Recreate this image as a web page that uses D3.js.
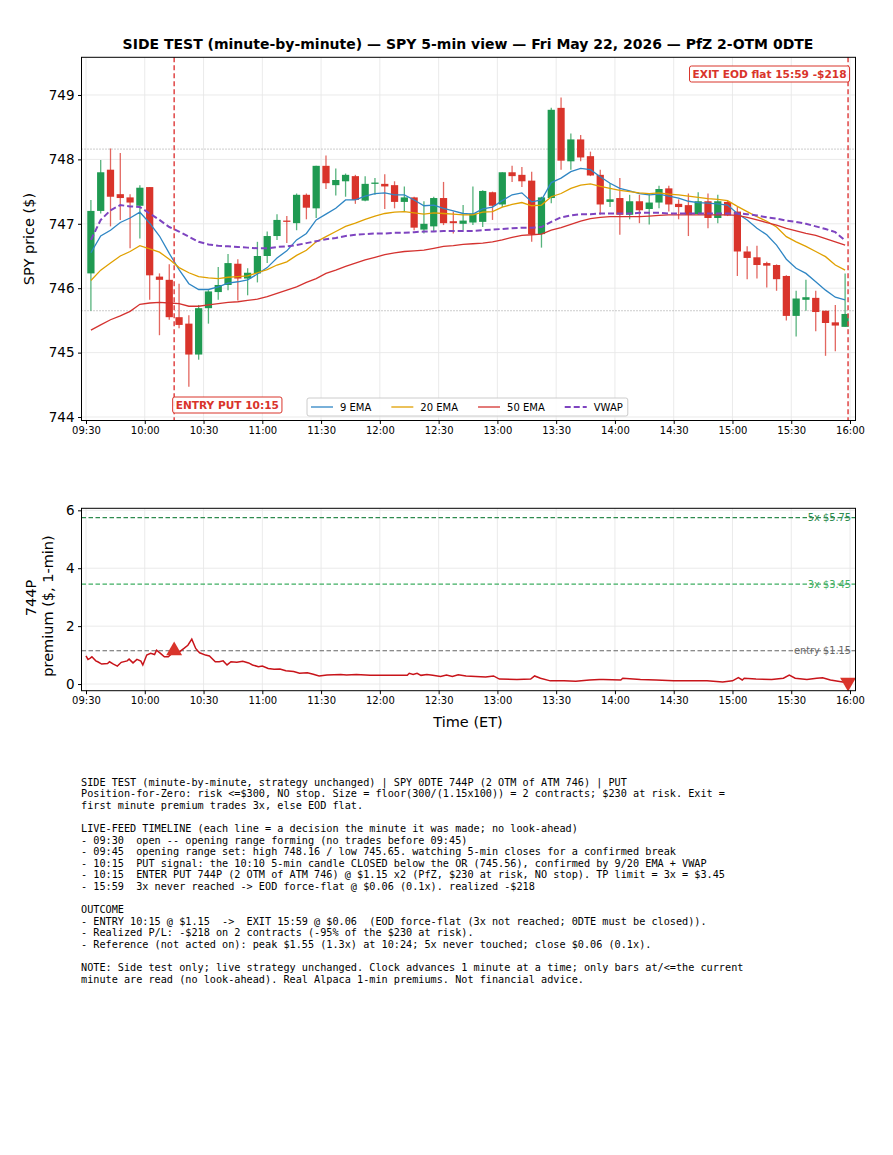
<!DOCTYPE html>
<html>
<head>
<meta charset="utf-8">
<script src="https://cdn.jsdelivr.net/npm/d3@7"></script>
<style>
  body { margin: 0; background: #fff; }
  svg { display: block; }
  text { font-family: "DejaVu Sans", sans-serif; }
  .mono { font-family: "DejaVu Sans Mono", monospace; white-space: pre; }
</style>
</head>
<body>
<div id="chart"></div>
<script>
// 5-min SPY candles, 09:30 .. 15:55 (index i -> 09:30 + 5*i)
const opens  = [746.23,747.20,747.84,747.46,747.41,747.28,747.57,746.18,746.13,745.55,745.45,744.97,745.69,745.94,746.05,746.38,746.15,746.23,746.50,746.81,
                747.05,747.01,747.45,747.24,747.90,747.60,747.66,747.74,747.36,747.62,747.62,747.60,747.34,747.41,746.91,746.96,747.40,747.04,747.00,
                747.02,747.03,747.49,747.30,747.80,747.76,747.67,746.84,747.40,748.80,747.97,748.31,748.05,747.76,747.34,747.40,747.14,747.35,747.23,747.33,
                747.55,747.31,747.29,747.15,747.35,747.09,747.34,747.19,746.57,746.48,746.39,746.36,746.19,745.57,745.82,745.85,745.65,745.47,745.40];
const highs  = [747.37,747.99,748.17,748.10,747.46,747.60,747.57,746.23,746.37,746.07,745.58,745.74,745.97,746.33,746.53,746.45,746.31,746.72,746.88,747.15,
                747.12,747.47,747.47,747.90,748.06,747.86,747.78,747.76,747.74,747.71,747.77,747.66,747.58,747.42,747.35,747.42,747.65,747.19,747.29,
                747.58,747.52,747.50,747.80,747.90,747.88,747.81,747.42,748.80,748.96,748.40,748.38,748.12,747.84,747.63,747.71,747.45,747.45,747.47,747.59,
                747.59,747.38,747.47,747.49,747.47,747.45,747.36,747.26,746.65,746.66,746.41,746.37,746.20,745.96,746.13,745.96,745.65,745.74,746.23];
const lows   = [745.65,747.16,746.96,747.06,746.62,746.77,745.82,745.27,745.51,745.38,744.47,744.89,745.45,745.82,745.97,745.81,745.89,746.09,746.39,746.75,
                746.70,746.90,747.07,747.09,747.54,747.44,747.42,747.31,747.35,747.45,747.23,747.24,747.19,746.90,746.85,746.88,746.98,746.85,746.90,
                746.98,746.95,747.06,747.26,747.65,747.57,746.72,746.63,747.32,747.84,747.84,747.97,747.74,747.14,747.26,746.83,747.07,747.01,746.99,747.24,
                747.19,747.07,746.81,747.14,746.93,747.01,747.12,746.19,746.14,746.15,746.01,745.96,745.50,745.25,745.65,745.33,744.95,745.02,745.40];
const closes = [747.20,747.80,747.42,747.40,747.33,747.56,746.20,746.13,745.55,745.43,744.97,745.69,745.95,746.05,746.39,746.15,746.24,746.50,746.81,747.06,
                747.03,747.45,747.25,747.90,747.63,747.68,747.76,747.37,747.62,747.64,747.58,747.34,747.41,746.94,747.00,747.40,747.01,747.01,747.05,
                747.16,747.51,747.28,747.80,747.74,747.66,746.84,747.41,748.77,747.98,748.31,748.03,747.75,747.30,747.38,747.14,747.35,747.21,747.33,747.54,
                747.30,747.26,747.14,747.35,747.09,747.35,747.13,746.57,746.47,746.36,746.35,746.14,745.57,745.84,745.86,745.63,745.46,745.42,745.60];

// indicator lines, one value per 5-min bar
const ema9  = [746.55,746.81,746.90,747.02,747.09,747.18,747.01,746.81,746.54,746.29,746.07,745.98,745.98,746.02,746.08,746.10,746.13,746.22,746.32,746.47,
               746.58,746.75,746.85,747.06,747.15,747.24,747.37,747.37,747.43,747.47,747.48,747.45,747.45,747.37,747.28,747.29,747.24,747.20,747.16,
               747.15,747.23,747.26,747.36,747.45,747.48,747.34,747.37,747.64,747.71,747.81,747.86,747.84,747.73,747.63,747.55,747.51,747.47,747.45,747.46,
               747.43,747.40,747.35,747.33,747.32,747.31,747.29,747.16,747.06,746.93,746.83,746.67,746.45,746.31,746.23,746.10,745.97,745.86,745.82];
const ema20 = [746.12,746.28,746.39,746.50,746.57,746.66,746.61,746.56,746.45,746.32,746.24,746.18,746.16,746.15,746.17,746.18,746.19,746.24,746.29,746.36,
               746.41,746.51,746.59,746.72,746.80,746.88,746.96,747.01,747.07,747.12,747.16,747.18,747.19,747.17,747.15,747.17,747.16,747.15,747.14,
               747.14,747.18,747.19,747.26,747.30,747.33,747.28,747.29,747.42,747.47,747.55,747.60,747.62,747.58,747.55,747.52,747.50,747.48,747.47,747.48,
               747.46,747.45,747.43,747.41,747.39,747.38,747.36,747.27,747.19,747.11,747.04,746.95,746.80,746.72,746.65,746.57,746.49,746.36,746.28];
const ema50 = [745.35,745.43,745.51,745.57,745.64,745.75,745.77,745.78,745.77,745.76,745.72,745.72,745.74,745.76,745.78,745.79,745.81,745.83,745.87,745.92,
               745.97,746.02,746.09,746.15,746.23,746.28,746.34,746.39,746.44,746.48,746.52,746.55,746.57,746.58,746.59,746.62,746.65,746.66,746.68,
               746.69,746.70,746.72,746.75,746.79,746.82,746.83,746.84,746.90,746.94,746.99,747.04,747.08,747.10,747.11,747.11,747.11,747.11,747.12,747.13,
               747.14,747.14,747.14,747.14,747.14,747.14,747.14,747.13,747.10,747.06,747.02,746.98,746.93,746.89,746.85,746.82,746.77,746.72,746.67];
const vwap  = [746.75,747.06,747.21,747.29,747.27,747.26,747.16,747.06,746.95,746.88,746.80,746.72,746.68,746.66,746.65,746.64,746.63,746.62,746.62,746.64,
               746.65,746.67,746.70,746.73,746.76,746.78,746.81,746.83,746.84,746.85,746.85,746.86,746.86,746.87,746.88,746.88,746.89,746.89,746.89,
               746.89,746.90,746.91,746.92,746.93,746.94,746.94,746.95,747.03,747.10,747.13,747.15,747.15,747.16,747.16,747.16,747.16,747.17,747.17,747.17,
               747.16,747.16,747.16,747.16,747.16,747.16,747.16,747.16,747.15,747.13,747.10,747.08,747.05,747.03,747.00,746.96,746.92,746.87,746.74];

// 744P premium (minutes after 09:30, $)
const premMin = [0,1,2,3,5,6,8,11,12,14,16,18,21,22,24,26,28,29,31,33,35,36,38,40,42,44,45,47,50,52,
                 54,56,57,58,61,63,66,68,70,72,74,77,80,83,85,88,90,93,96,99,102,106,109,113,116,119,123,130,
                 133,138,145,150,158,164,165,167,169,171,174,177,181,184,187,190,194,199,204,208,
                 211,220,227,229,232,237,244,250,257,262,264,273,274,283,291,300,308,317,325,330,
                 333,335,336,342,350,356,359,362,368,373,376,380,387,389];
const premVal = [0.97,0.85,0.89,0.94,0.80,0.77,0.69,0.71,0.77,0.69,0.62,0.75,0.80,0.86,0.73,0.85,0.79,0.66,1.00,1.06,
                 1.02,1.17,1.06,0.94,0.94,1.06,1.15,1.08,1.23,1.34,1.55,1.23,1.15,1.08,1.00,0.97,0.77,0.77,0.80,0.66,
                 0.77,0.75,0.79,0.73,0.66,0.60,0.62,0.54,0.51,0.52,0.46,0.43,0.37,0.39,0.34,0.28,0.31,0.33,
                 0.31,0.33,0.30,0.30,0.30,0.30,0.37,0.33,0.37,0.30,0.33,0.30,0.26,0.31,0.26,0.32,0.28,0.26,0.24,0.28,
                 0.17,0.16,0.17,0.28,0.20,0.11,0.11,0.10,0.14,0.16,0.16,0.14,0.20,0.16,0.14,0.11,0.11,0.11,0.07,0.11,
                 0.22,0.14,0.20,0.17,0.16,0.20,0.31,0.20,0.16,0.20,0.22,0.14,0.06,0.06];

const xTicks = [0,30,60,90,120,150,180,210,240,270,300,330,360,390];
const priceTicks = [744,745,746,747,748,749];
const premTicks = [0,2,4,6];
const orHigh = 748.16, orLow = 745.65;
const entryMin = 45, exitMin = 389, entryPrem = 1.15, exitPrem = 0.06;
const targets = [
  {v: 5.75, label: "5x $5.75", color: "#2e8b4e"},
  {v: 3.45, label: "3x $3.45", color: "#3fae62"},
  {v: 1.15, label: "entry $1.15", color: "#666666"}
];
const lines = [
  {name: "9 EMA", data: ema9, color: "#2f86c4", w: 1.3, dash: null},
  {name: "20 EMA", data: ema20, color: "#e0a000", w: 1.3, dash: null},
  {name: "50 EMA", data: ema50, color: "#d4322f", w: 1.3, dash: null},
  {name: "VWAP", data: vwap, color: "#7e44c0", w: 2, dash: "6,3"}
];
const notes = [
  "SIDE TEST (minute-by-minute, strategy unchanged) | SPY 0DTE 744P (2 OTM of ATM 746) | PUT",
  "Position-for-Zero: risk <=$300, NO stop. Size = floor(300/(1.15x100)) = 2 contracts; $230 at risk. Exit =",
  "first minute premium trades 3x, else EOD flat.",
  "",
  "LIVE-FEED TIMELINE (each line = a decision the minute it was made; no look-ahead)",
  "- 09:30  open -- opening range forming (no trades before 09:45)",
  "- 09:45  opening range set: high 748.16 / low 745.65. watching 5-min closes for a confirmed break",
  "- 10:15  PUT signal: the 10:10 5-min candle CLOSED below the OR (745.56), confirmed by 9/20 EMA + VWAP",
  "- 10:15  ENTER PUT 744P (2 OTM of ATM 746) @ $1.15 x2 (PfZ, $230 at risk, NO stop). TP limit = 3x = $3.45",
  "- 15:59  3x never reached -> EOD force-flat @ $0.06 (0.1x). realized -$218",
  "",
  "OUTCOME",
  "- ENTRY 10:15 @ $1.15  ->  EXIT 15:59 @ $0.06  (EOD force-flat (3x not reached; 0DTE must be closed)).",
  "- Realized P/L: -$218 on 2 contracts (-95% of the $230 at risk).",
  "- Reference (not acted on): peak $1.55 (1.3x) at 10:24; 5x never touched; close $0.06 (0.1x).",
  "",
  "NOTE: Side test only; live strategy unchanged. Clock advances 1 minute at a time; only bars at/<=the current",
  "minute are read (no look-ahead). Real Alpaca 1-min premiums. Not financial advice."
];

const W = 893, H = 1155;
const GREEN = "#1f9a52", RED = "#d9342b";
const svg = d3.select("#chart").append("svg").attr("width", W).attr("height", H);

const fmtTime = m => {
  const t = 570 + m;
  return String(Math.floor(t / 60)).padStart(2, "0") + ":" + String(t % 60).padStart(2, "0");
};

const x = d3.scaleLinear().domain([-2.3, 392.8]).range([81.5, 855.5]);
const y = d3.scaleLinear().domain([743.946, 749.585]).range([420.5, 57.3]);
const y2 = d3.scaleLinear().domain([-0.23, 6.07]).range([690.7, 508.3]);

function grid(g, yScale, yVals, y0, y1) {
  g.selectAll(".gx").data(xTicks).join("line")
    .attr("x1", d => x(d)).attr("x2", d => x(d))
    .attr("y1", y0).attr("y2", y1)
    .attr("stroke", "#e8e8e8").attr("stroke-width", 0.9);
  g.selectAll(".gy").data(yVals).join("line")
    .attr("x1", x.range()[0]).attr("x2", x.range()[1])
    .attr("y1", d => yScale(d)).attr("y2", d => yScale(d))
    .attr("stroke", "#e8e8e8").attr("stroke-width", 0.9);
}

function axes(yScale, yVals, bottom) {
  const ax = svg.append("g").attr("transform", `translate(0,${bottom})`)
    .call(d3.axisBottom(x).tickValues(xTicks).tickFormat(fmtTime).tickSize(3.5).tickPadding(3));
  ax.select(".domain").remove();
  ax.selectAll("text").attr("font-size", 10).attr("fill", "#000").style("font-family", "DejaVu Sans");
  ax.selectAll("line").attr("stroke", "#000");
  const ay = svg.append("g").attr("transform", `translate(${x.range()[0]},0)`)
    .call(d3.axisLeft(yScale).tickValues(yVals).tickFormat(d3.format("d")).tickSize(3.5).tickPadding(3.5));
  ay.select(".domain").remove();
  ay.selectAll("text").attr("font-size", 13.5).attr("fill", "#000").style("font-family", "DejaVu Sans");
  ay.selectAll("line").attr("stroke", "#000");
}

function frame(y0, y1) {
  svg.append("rect")
    .attr("x", x.range()[0]).attr("y", y0)
    .attr("width", x.range()[1] - x.range()[0]).attr("height", y1 - y0)
    .attr("fill", "none").attr("stroke", "#000").attr("stroke-width", 1);
}

// ---------- price panel ----------
const pricePanel = svg.append("g");
grid(pricePanel, y, priceTicks, y.range()[1], y.range()[0]);

pricePanel.selectAll(".orline").data([orHigh, orLow]).join("line")
  .attr("x1", x.range()[0]).attr("x2", x.range()[1])
  .attr("y1", d => y(d)).attr("y2", d => y(d))
  .attr("stroke", "#999").attr("stroke-width", 1).attr("stroke-dasharray", "1,2");

const bars = d3.range(opens.length);
const bw = x(3.7) - x(0);
const cx = i => x(i * 5 + 2.5);

const candles = pricePanel.selectAll(".candle").data(bars).join("g");
candles.append("line")
  .attr("x1", cx).attr("x2", cx)
  .attr("y1", i => y(highs[i])).attr("y2", i => y(lows[i]))
  .attr("stroke", i => closes[i] >= opens[i] ? GREEN : RED)
  .attr("stroke-opacity", 0.75).attr("stroke-width", 1.3);
candles.append("rect")
  .attr("x", i => cx(i) - bw / 2).attr("width", bw)
  .attr("y", i => y(Math.max(opens[i], closes[i])))
  .attr("height", i => Math.max(1, Math.abs(y(opens[i]) - y(closes[i]))))
  .attr("fill", i => closes[i] >= opens[i] ? GREEN : RED);

const lineGen = arr => d3.line().x((d, i) => cx(i)).y(d => y(d))(arr);
lines.forEach(l => {
  pricePanel.append("path").attr("d", lineGen(l.data))
    .attr("fill", "none").attr("stroke", l.color).attr("stroke-width", l.w)
    .attr("stroke-dasharray", l.dash);
});

// entry / exit markers
pricePanel.selectAll(".vline").data([entryMin, exitMin]).join("line")
  .attr("x1", d => x(d)).attr("x2", d => x(d))
  .attr("y1", y.range()[1]).attr("y2", y.range()[0])
  .attr("stroke", "#e04545").attr("stroke-width", 1.5).attr("stroke-dasharray", "5,3");

function tagBox(txt, tx, ty, anchor) {
  const g = svg.append("g");
  const t = g.append("text").attr("x", tx).attr("y", ty)
    .attr("text-anchor", anchor).attr("dominant-baseline", "central")
    .attr("font-size", 10.6).attr("font-weight", "bold").attr("fill", "#d9342b").text(txt);
  const b = t.node().getBBox();
  g.insert("rect", "text")
    .attr("x", b.x - 3).attr("y", ty - 8).attr("width", b.width + 6).attr("height", 16)
    .attr("rx", 2).attr("fill", "#fff").attr("fill-opacity", 0.9)
    .attr("stroke", "#d9342b").attr("stroke-width", 1);
}
tagBox("ENTRY PUT 10:15", x(entryMin) + 1.5, 405, "start");
tagBox("EXIT EOD flat 15:59 -$218", x(exitMin) - 1.5, 74, "end");

// legend
const leg = svg.append("g");
const legRect = leg.append("rect").attr("y", 398).attr("height", 18).attr("rx", 2)
  .attr("fill", "#fff").attr("fill-opacity", 0.85).attr("stroke", "#cccccc").attr("stroke-width", 1);
let lx = 311;
lines.forEach(l => {
  leg.append("line").attr("x1", lx).attr("x2", lx + 22).attr("y1", 407).attr("y2", 407)
    .attr("stroke", l.color).attr("stroke-width", l.w).attr("stroke-dasharray", l.dash);
  const t = leg.append("text").attr("x", lx + 29).attr("y", 407).attr("dominant-baseline", "central")
    .attr("font-size", 10).attr("fill", "#000").text(l.name);
  lx += 29 + t.node().getComputedTextLength() + 20;
});
legRect.attr("x", 307).attr("width", lx - 20 + 5 - 307);

frame(y.range()[1], y.range()[0]);
axes(y, priceTicks, y.range()[0]);

svg.append("text").attr("transform", "translate(34,239) rotate(-90)")
  .attr("text-anchor", "middle").attr("font-size", 14.5).text("SPY price ($)");

svg.append("text").attr("x", x(195)).attr("y", 49)
  .attr("text-anchor", "middle").attr("font-size", 14).attr("font-weight", "bold")
  .text("SIDE TEST (minute-by-minute) \u2014 SPY 5-min view \u2014 Fri May 22, 2026 \u2014 PfZ 2-OTM 0DTE");

// ---------- premium panel ----------
const premPanel = svg.append("g");
grid(premPanel, y2, premTicks, y2.range()[1], y2.range()[0]);

premPanel.selectAll(".tline").data(targets).join("line")
  .attr("x1", x.range()[0]).attr("x2", x.range()[1])
  .attr("y1", d => y2(d.v)).attr("y2", d => y2(d.v))
  .attr("stroke", d => d.color).attr("stroke-width", 1.2).attr("stroke-dasharray", "4.5,2.5");
premPanel.selectAll(".tlab").data(targets).join("text")
  .attr("x", 851).attr("y", d => y2(d.v)).attr("dominant-baseline", "central")
  .attr("text-anchor", "end").attr("font-size", 9.8).attr("fill", d => d.color)
  .text(d => d.label);

premPanel.append("path")
  .attr("d", d3.line().x((d, i) => x(premMin[i])).y(d => y2(d))(premVal))
  .attr("fill", "none").attr("stroke", "#c8141a").attr("stroke-width", 1.5);

const tri = d3.symbol().type(d3.symbolTriangle).size(110);
premPanel.append("path").attr("d", tri())
  .attr("transform", `translate(${x(entryMin)},${y2(entryPrem)})`).attr("fill", "#d9342b");
premPanel.append("path").attr("d", tri())
  .attr("transform", `translate(${x(exitMin)},${y2(exitPrem)}) rotate(180)`).attr("fill", "#d9342b");

frame(y2.range()[1], y2.range()[0]);
axes(y2, premTicks, y2.range()[0]);

svg.append("text").attr("transform", "translate(36,598) rotate(-90)")
  .attr("text-anchor", "middle").attr("font-size", 14.5).text("744P");
svg.append("text").attr("transform", "translate(53,606) rotate(-90)")
  .attr("text-anchor", "middle").attr("font-size", 14.5).text("premium ($, 1-min)");

svg.append("text").attr("x", x(195)).attr("y", 727)
  .attr("text-anchor", "middle").attr("font-size", 14.5).text("Time (ET)");

// ---------- notes ----------
svg.append("g").selectAll("text").data(notes).join("text")
  .attr("class", "mono")
  .attr("x", 81).attr("y", (d, i) => 782 + i * 11.6)
  .attr("dominant-baseline", "central")
  .attr("font-size", 10.2).attr("fill", "#000")
  .text(d => d);
</script>
</body>
</html>
